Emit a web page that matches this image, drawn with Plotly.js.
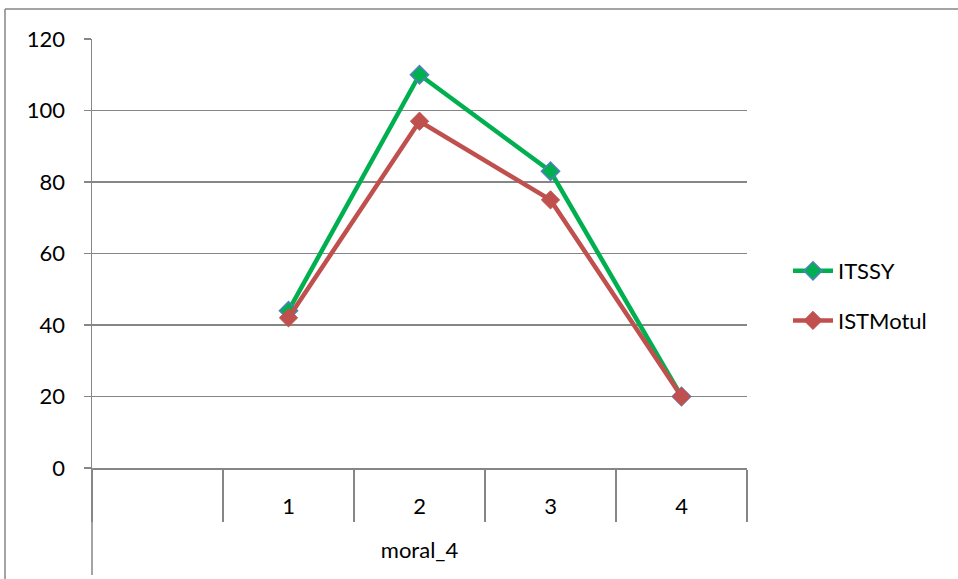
<!DOCTYPE html>
<html>
<head>
<meta charset="utf-8">
<script src="https://cdn.plot.ly/plotly-3.0.1.min.js"></script>
<style>html,body{margin:0;padding:0;background:#fff;}#chart{width:958px;height:579px;}</style>
</head>
<body>
<div id="chart"></div>
<script>
const categories = ["", "1", "2", "3", "4"];
const pointCategories = ["1", "2", "3", "4"];
const itssy = [44, 110, 83, 20];
const istMotul = [42, 97, 75, 20];
const yTicks = [0, 20, 40, 60, 80, 100, 120];
const xTitle = "moral_4";

const W = 958, H = 579;
const L = 92, R = 211, T = 39, B = 111;
const pw = W - L - R, ph = H - T - B;
const gridCol = "#868686";
const fontFam = "Lato, 'Open Sans', sans-serif";
const FS = 22;

const traces = [
  {x: pointCategories, y: itssy, name: "ITSSY", type: "scatter", mode: "lines+markers",
   legendgroup: "a",
   line: {color: "#00B050", width: 4.5},
   marker: {symbol: "diamond", size: 14, color: "#00B050", line: {color: "#4F81BD", width: 1.5}}},
  {x: pointCategories, y: istMotul, name: "ISTMotul", type: "scatter", mode: "lines+markers",
   legendgroup: "b",
   line: {color: "#C0504D", width: 4.5},
   marker: {symbol: "diamond", size: 14, color: "#C0504D", line: {color: "#C0504D", width: 1}}}
];

const layout = {
  width: W, height: H,
  margin: {l: L, r: R, t: T, b: B, pad: 0},
  paper_bgcolor: "#fff", plot_bgcolor: "#fff",
  font: {family: fontFam, size: FS, color: "#000"},
  showlegend: true,
  legend: {x: (788 - L) / pw, y: (468 - 250) / ph, xanchor: "left", yanchor: "top",
           traceorder: "grouped", tracegroupgap: 18, font: {size: FS}, itemwidth: 40,
           bgcolor: "rgba(0,0,0,0)"},
  xaxis: {
    type: "category", categoryorder: "array", categoryarray: categories,
    range: [-0.5, 4.5], fixedrange: true,
    showgrid: false, zeroline: false,
    showline: true, linecolor: gridCol, linewidth: 1.5,
    ticks: "outside", tickson: "boundaries", ticklen: 52, tickcolor: gridCol, tickwidth: 1.5,
    ticklabelstandoff: 18,
    tickfont: {size: FS},
    title: {text: xTitle, font: {size: FS}, standoff: 24}
  },
  yaxis: {
    range: [0, 120], tickvals: yTicks, fixedrange: true,
    showgrid: true, gridcolor: gridCol, gridwidth: 1.5,
    zeroline: false, showline: true, linecolor: gridCol, linewidth: 1.5,
    ticks: "outside", ticklen: 7, tickcolor: gridCol, tickwidth: 1.5,
    tickfont: {size: FS}, ticklabelstandoff: 14
  },
  shapes: [
    {type: "line", xref: "paper", yref: "paper", x0: 0, x1: 0, y0: 0, y1: -(575 - 468) / ph,
     line: {color: gridCol, width: 1.5}},
    {type: "line", xref: "paper", yref: "paper", x0: (5 - L) / pw, x1: (958 - L) / pw,
     y0: (468 - 9) / ph, y1: (468 - 9) / ph, line: {color: gridCol, width: 1.5}},
    {type: "line", xref: "paper", yref: "paper", x0: (5 - L) / pw, x1: (5 - L) / pw,
     y0: (468 - 9) / ph, y1: (468 - 579) / ph, line: {color: gridCol, width: 1.5}}
  ]
};

Plotly.newPlot("chart", traces, layout, {displayModeBar: false, staticPlot: true});
</script>
</body>
</html>
